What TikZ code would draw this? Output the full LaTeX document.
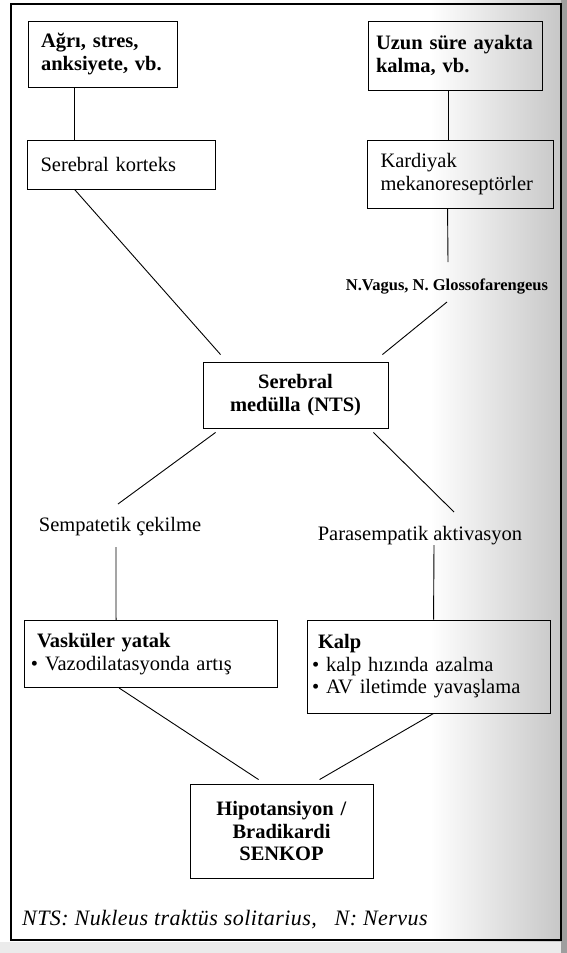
\documentclass[tikz,border=0pt]{standalone}
\usepackage{fontspec}
\setmainfont{Liberation Serif}
\newfontfamily\footfont[LetterSpace=2]{Liberation Serif}
\usetikzlibrary{calc}
\begin{document}
\begin{tikzpicture}[x=1pt,y=-1pt,
  txt/.style={font=\fontsize{20.5}{22.5}\selectfont},
  box/.style={draw, line width=0.9pt, inner ysep=0pt, txt},
  lbox/.style={box, align=left},
  cbox/.style={box, align=center},
  lbl/.style={inner sep=0pt, txt},
  conn/.style={line width=0.9pt}]
\useasboundingbox (0,0) rectangle (567,953);
% page shading of the scan
\shade[left color=white, right color=black!22] (430,0) rectangle (561,953);
\fill[black!38] (561,0) rectangle (567,953);
\fill[black!8] (0,942) rectangle (561,953);
% outer frame
\draw[line width=1.4pt] (11,4) rectangle (561,940);

% boxes
\node[lbox, inner xsep=13pt, text width=123pt, minimum height=66pt] (agri) at (102.5,54)
  {\textbf{Ağrı, stres,}\\\textbf{anksiyete, vb.}};
\node[lbox, inner xsep=13.5pt, text width=161pt, minimum height=49pt] (korteks) at (121,164.5)
  {Serebral korteks};
\node[lbox, inner xsep=8pt, text width=158pt, minimum height=69pt] (uzun) at (455,55.5)
  {\textbf{Uzun süre ayakta}\\\textbf{kalma, vb.}};
\node[lbox, inner xsep=13.5pt, text width=159pt, minimum height=68pt] (kardiyak) at (460,174)
  {Kardiyak\\mekanoreseptörler};
\node[lbl, font=\fontsize{16.5}{19}\selectfont\bfseries] (vagus) at (447,287)
  {N.Vagus, N. Glossofarengeus};
\node[cbox, inner xsep=10pt, text width=165pt, minimum height=66pt] (medulla) at (295.5,395)
  {\textbf{Serebral}\\\textbf{medülla (NTS)}};
\node[lbl] (semp) at (120,527) {Sempatetik çekilme};
\node[lbl] (para) at (420,536) {Parasempatik aktivasyon};
\node[lbox, inner xsep=13pt, text width=227pt, minimum height=67pt] (vask) at (150.5,654)
  {\textbf{Vasküler yatak}\\\hspace*{-6pt}• Vazodilatasyonda artış};
\node[lbox, inner xsep=11pt, text width=221pt, minimum height=93pt] (kalp) at (428.5,666.5)
  {\textbf{Kalp}\\\hspace*{-6pt}• kalp hızında azalma\\\hspace*{-6pt}• AV iletimde yavaşlama};
\node[cbox, inner xsep=10pt, text width=163pt, minimum height=94pt] (hipo) at (281.5,831)
  {\textbf{Hipotansiyon /}\\\textbf{Bradikardi}\\\textbf{SENKOP}};
\node[lbl, anchor=west, font=\fontsize{22}{24}\footfont\itshape] (foot) at (22,920)
  {NTS: Nukleus traktüs solitarius,\ \ \ N: Nervus};

% connectors
\draw[conn] ([xshift=47pt]agri.south west) -- ([xshift=48pt]korteks.north west);
\draw[conn] ([xshift=81pt]uzun.south west) -- ([xshift=82pt]kardiyak.north west);
\draw[conn] ([xshift=81pt]kardiyak.south west) -- ([xshift=1pt,yshift=25pt]vagus.center);
\draw[conn] ([yshift=-15pt]vagus.center) -- ([xshift=-6pt,yshift=7pt]medulla.north east);
\draw[conn] ([xshift=48pt]korteks.south west) -- ([xshift=18pt,yshift=7pt]medulla.north west);
\draw[conn] ([xshift=13pt,yshift=-4pt]medulla.south west) -- ([xshift=-2pt,yshift=23pt]semp.center);
\draw[conn] ([xshift=-15pt,yshift=-4pt]medulla.south east) -- ([xshift=34pt,yshift=24pt]para.center);
\draw[conn] ([xshift=-4pt,yshift=-20pt]semp.center) -- ([xshift=92.5pt]vask.north west);
\draw[conn] ([xshift=14pt,yshift=-9pt]para.center) -- ([xshift=127pt]kalp.north west);
\draw[conn] ([xshift=95.5pt]vask.south west) -- ([xshift=69pt,yshift=4pt]hipo.north west);
\draw[conn] ([xshift=127pt]kalp.south west) -- ([xshift=130pt,yshift=4pt]hipo.north west);
\end{tikzpicture}
\end{document}
